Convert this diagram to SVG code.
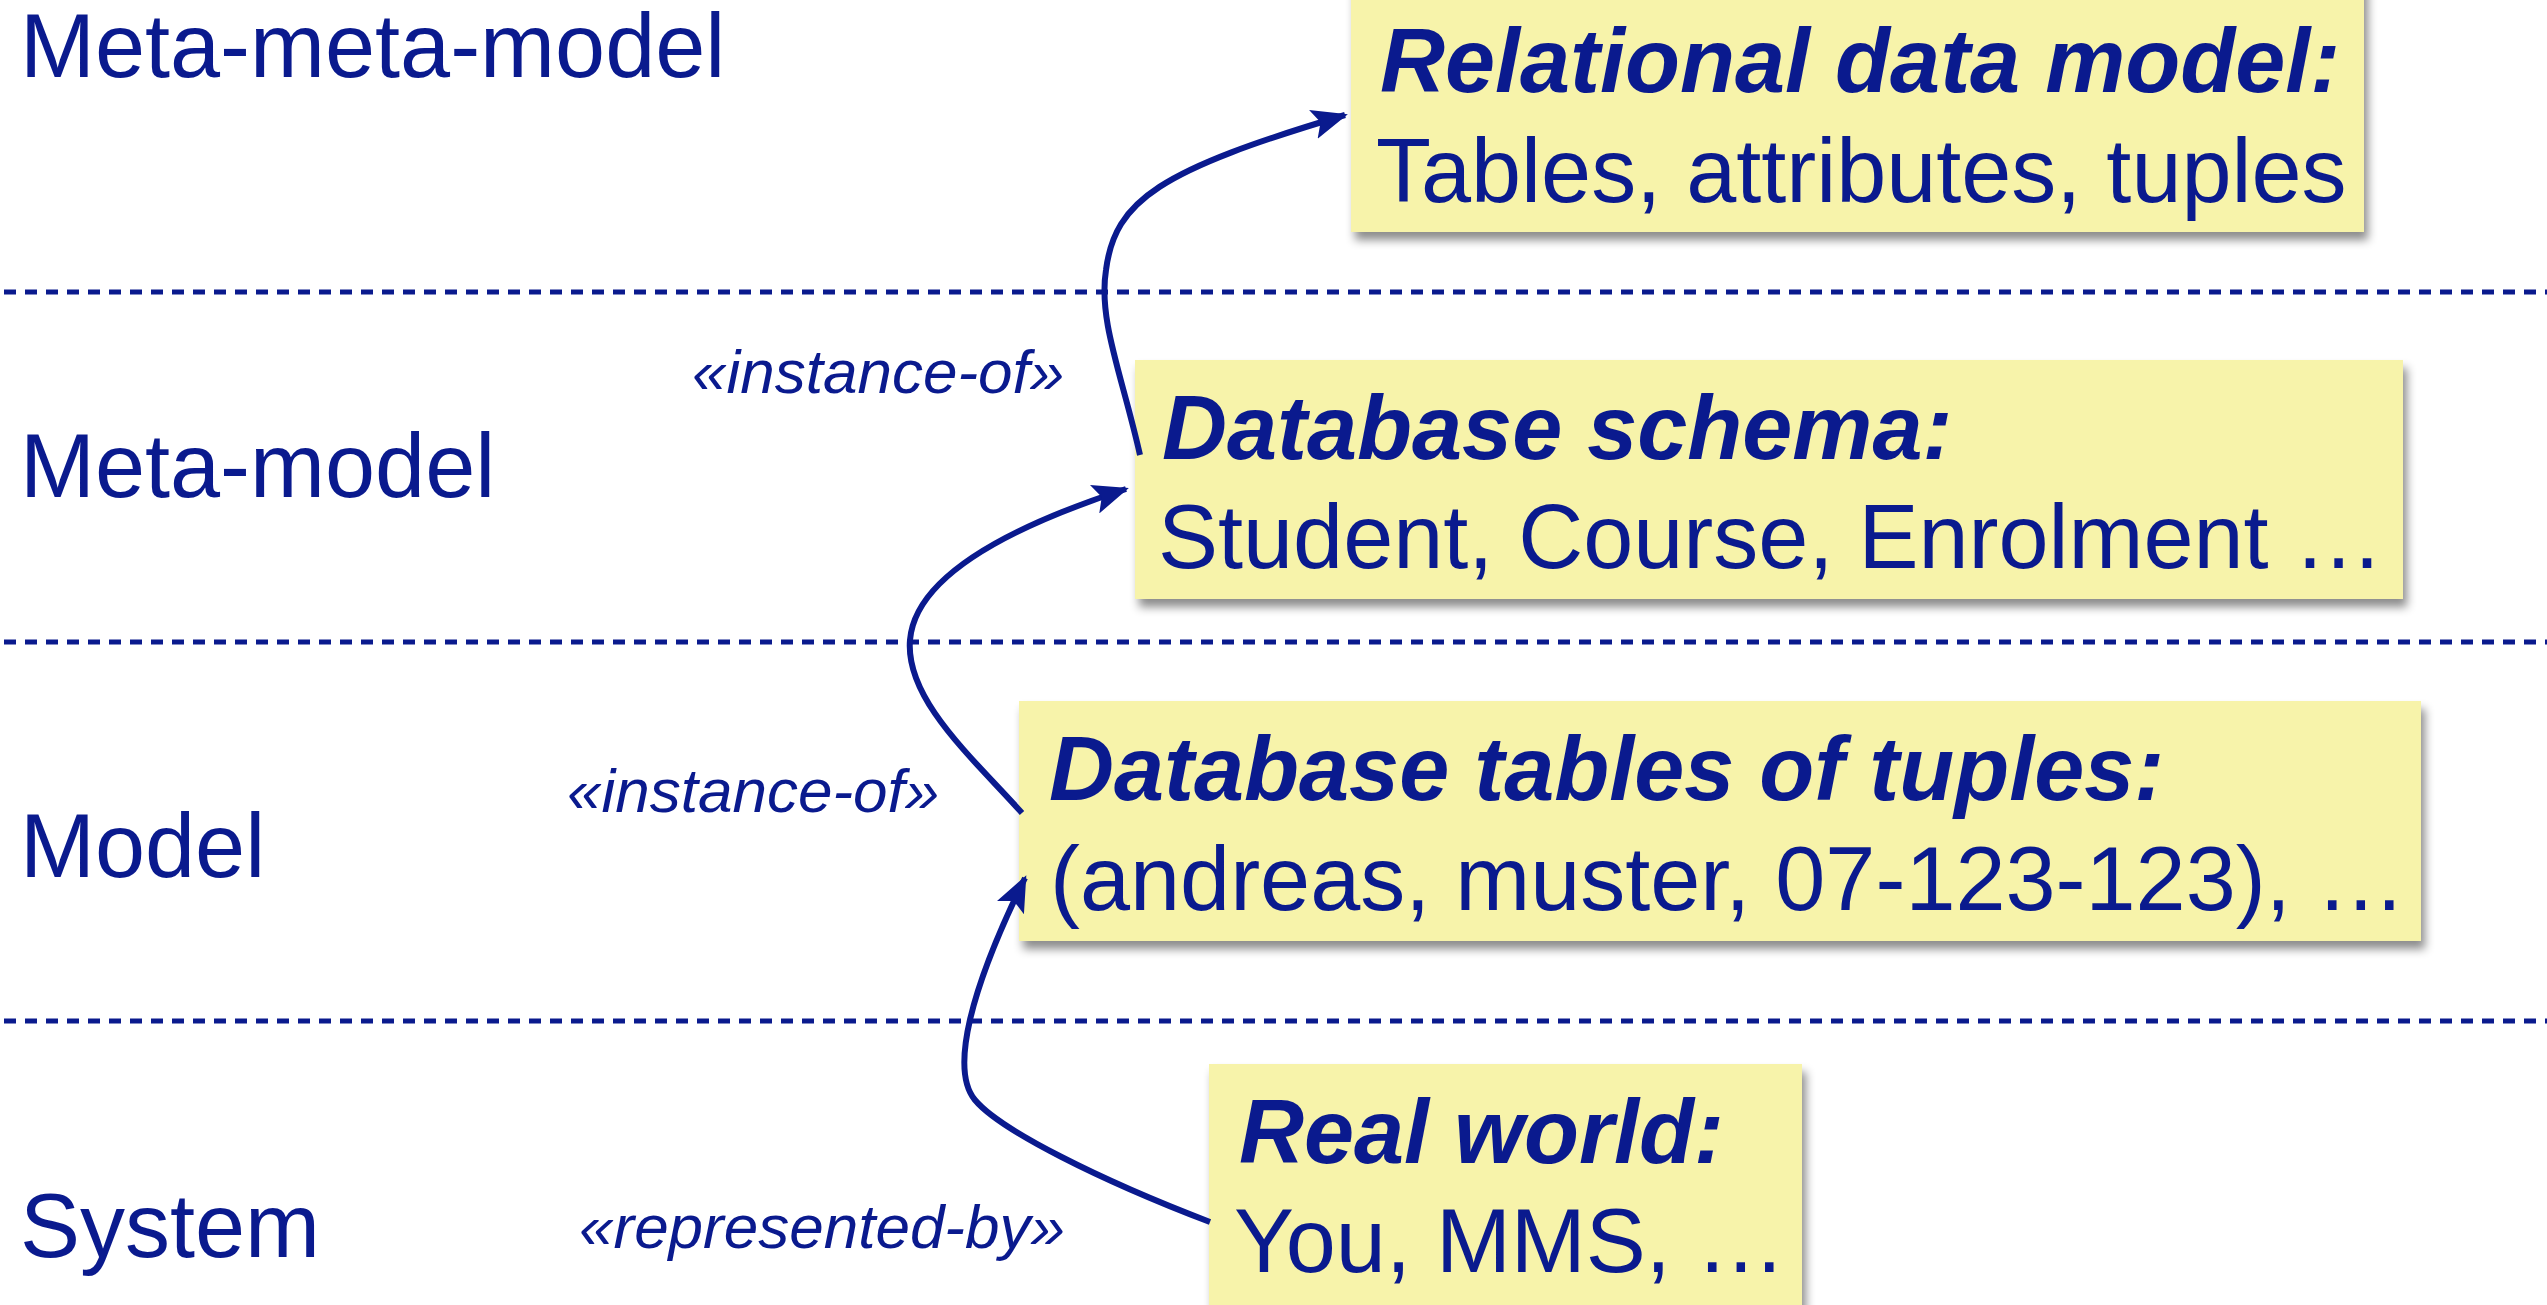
<svg xmlns="http://www.w3.org/2000/svg" width="2547" height="1305" viewBox="0 0 2547 1305">
  <style>
    .lvl { font-family: "Liberation Sans", Arial, sans-serif; font-size: 90px; fill: #0A1A8E; }
    .rel { font-family: "Liberation Sans", Arial, sans-serif; font-size: 62px; font-style: italic; fill: #0A1A8E; }
    .head { font-family: "Liberation Sans", Arial, sans-serif; font-size: 90px; font-weight: bold; font-style: italic; fill: #0A1A8E; }
    .body { font-family: "Liberation Sans", Arial, sans-serif; font-size: 90px; fill: #0A1A8E; }
    .box { fill: #F7F3AA; filter: url(#shadow); }
    .sep { stroke: #0A1A8E; stroke-width: 5; stroke-dasharray: 12 9; fill: none; }
    .link { stroke: #0A1A8E; stroke-width: 6; fill: none; marker-end: url(#arrow); }
  </style>
  <defs>
    <filter id="shadow" x="-5%" y="-10%" width="115%" height="130%">
      <feDropShadow dx="4" dy="8" stdDeviation="5" flood-color="#000" flood-opacity="0.45"/>
    </filter>
    <marker id="arrow" viewBox="0 0 12 10" refX="11" refY="5" markerWidth="6" markerHeight="5" orient="auto" markerUnits="strokeWidth">
      <path d="M0,0 L12,5 L0,10 L2.5,5 z" fill="#0A1A8E"/>
    </marker>
  </defs>
  <rect width="2547" height="1305" fill="#fff"/>

  <!-- level separators -->
  <g id="separators">
    <line class="sep" x1="4" y1="292" x2="2547" y2="292"/>
    <line class="sep" x1="4" y1="642" x2="2547" y2="642"/>
    <line class="sep" x1="4" y1="1021" x2="2547" y2="1021"/>
  </g>

  <!-- level names -->
  <g id="levels">
    <text class="lvl" x="20" y="77">Meta-meta-model</text>
    <text class="lvl" x="20" y="497">Meta-model</text>
    <text class="lvl" x="20" y="877">Model</text>
    <text class="lvl" x="20" y="1257">System</text>
  </g>

  <!-- relation labels -->
  <g id="labels">
    <text class="rel" x="692" y="393">«instance-of»</text>
    <text class="rel" x="567" y="812">«instance-of»</text>
    <text class="rel" x="579" y="1248">«represented-by»</text>
  </g>

  <g id="relational-data-model">
    <rect class="box" x="1351" y="-20" width="1013" height="252"/>
    <text class="head" x="1380" y="92">Relational data model:</text>
    <text class="body" x="1376" y="202">Tables, attributes, tuples</text>
  </g>

  <g id="database-schema">
    <rect class="box" x="1135" y="360" width="1268" height="239"/>
    <text class="head" x="1162" y="459">Database schema:</text>
    <text class="body" x="1158" y="568">Student, Course, Enrolment …</text>
  </g>

  <g id="database-tables">
    <rect class="box" x="1019" y="701" width="1402" height="240"/>
    <text class="head" x="1049" y="800">Database tables of tuples:</text>
    <text class="body" x="1050" y="910">(andreas, muster, 07-123-123), …</text>
  </g>

  <g id="real-world">
    <rect class="box" x="1209" y="1064" width="593" height="260"/>
    <text class="head" x="1239" y="1163">Real world:</text>
    <text class="body" x="1234" y="1272">You, MMS, …</text>
  </g>

  <!-- connectors -->
  <g id="connectors">
    <path class="link" d="M1140,455 C1122,375 1098,320 1106,270 C1115,200 1160,170 1345,115"/>
    <path class="link" d="M1022,813 C975,760 905,700 910,640 C915,580 1000,530 1126,489"/>
    <path class="link" d="M1210,1222 C1100,1180 1000,1130 975,1100 C950,1070 970,990 1025,878"/>
  </g>
</svg>
